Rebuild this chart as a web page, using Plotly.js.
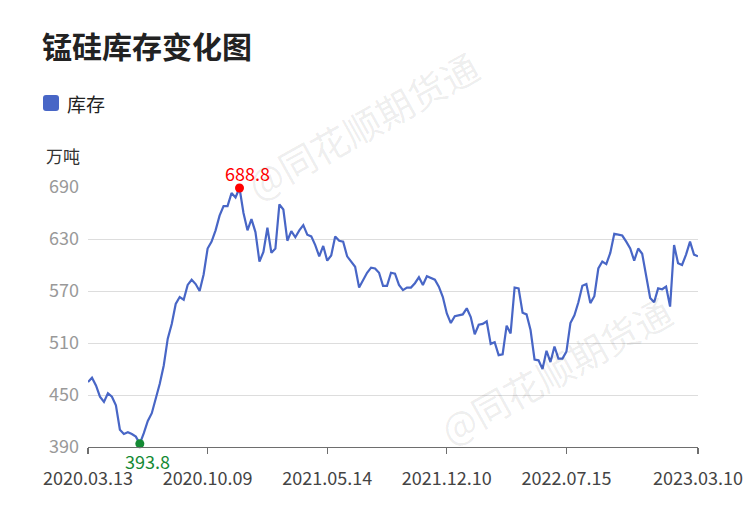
<!DOCTYPE html>
<html>
<head>
<meta charset="utf-8">
<script src="https://cdn.plot.ly/plotly-3.0.1.min.js"></script>
<style>html,body{margin:0;padding:0;background:#fff;}#chart{width:750px;height:510px;}</style>
</head>
<body>
<div id="chart"></div>
<script>
// Weekly inventory (万吨), 2020.03.13 – 2023.03.10
const seriesName = '库存';
const stock = [
  465, 470, 461, 448, 442, 452, 448, 438, 410, 405,
  407, 405, 402, 393.8, 406, 420, 429, 446, 463, 484,
  515, 532, 555, 563, 560, 577, 583, 578, 570, 589,
  619, 627, 640, 657, 668, 668, 683, 678, 688.8, 660,
  640, 653, 638, 604, 615, 643, 614, 619, 670, 664,
  628, 639, 632, 640, 646, 635, 633, 623, 610, 622,
  605, 611, 633, 628, 627, 610, 604, 598, 574, 583,
  591, 597, 596, 591, 576, 576, 591, 590, 577, 571,
  574, 574, 579, 586, 577, 587, 585, 583, 575, 563,
  544, 533, 541, 542, 543, 550, 540, 520, 531, 532,
  535, 509, 511, 496, 497, 530, 521, 574, 573, 545,
  543, 525, 491, 490, 480, 501, 488, 506, 492, 492,
  500, 533, 542, 557, 576, 578, 556, 564, 596, 604,
  601, 614, 636, 635, 634, 627, 619, 605, 619, 613,
  587, 562, 557, 573, 572, 575, 552, 623, 602, 600,
  612, 627, 612, 610
];
const tickIndex = [0, 30, 60, 90, 120, 153];
const tickLabels = ['2020.03.13', '2020.10.09', '2021.05.14', '2021.12.10', '2022.07.15', '2023.03.10'];
const yTicks = [390, 450, 510, 570, 630, 690];

const FONT = '"Noto Sans CJK SC", "Noto Sans", sans-serif';
const xs = stock.map((_, i) => i);
const maxV = Math.max(...stock), minV = Math.min(...stock);
const maxI = stock.indexOf(maxV), minI = stock.indexOf(minV);

const traces = [
  {x: xs, y: stock, type: 'scatter', mode: 'lines', name: seriesName,
   line: {color: '#4866c6', width: 2.2}, hoverinfo: 'x+y', cliponaxis: false},
  {x: [maxI], y: [maxV], type: 'scatter', mode: 'markers', cliponaxis: false,
   marker: {color: '#ff0000', size: 9}, hoverinfo: 'skip'},
  {x: [minI], y: [minV], type: 'scatter', mode: 'markers', cliponaxis: false,
   marker: {color: '#148a34', size: 9}, hoverinfo: 'skip'}
];

const L = 88, R = 698, T = 187, B = 447;
const px = v => (v - L) / (R - L);
const py = v => (B - v) / (B - T);

const layout = {
  width: 750, height: 510,
  margin: {l: L, r: 750 - R, t: T, b: 510 - B, pad: 0},
  paper_bgcolor: '#fff', plot_bgcolor: '#fff',
  showlegend: false,
  font: {family: FONT, color: '#333'},
  title: {text: '<b>锰硅库存变化图</b>', font: {family: FONT, size: 30, color: '#222'},
          xref: 'container', yref: 'container', x: 42 / 750, xanchor: 'left',
          y: 1 - 47 / 510, yanchor: 'middle'},
  xaxis: {range: [0, stock.length - 1], tickmode: 'array', tickvals: tickIndex, ticktext: tickLabels,
          showgrid: false, zeroline: false, showline: true, linecolor: '#6e6e6e', linewidth: 1.2,
          ticks: 'outside', ticklen: 6, tickcolor: '#6e6e6e', tickwidth: 1.2,
          tickfont: {family: FONT, size: 18, color: '#444'}, ticklabelstandoff: 9, fixedrange: true},
  yaxis: {range: [390, 690], tickmode: 'array', tickvals: yTicks,
          showgrid: true, gridcolor: '#dddddd', gridwidth: 1, zeroline: false, showline: false,
          ticks: '', tickfont: {family: FONT, size: 18, color: '#999'}, ticklabelstandoff: 8, fixedrange: true},
  shapes: [
    {type: 'path', xref: 'paper', yref: 'paper', xsizemode: 'pixel', ysizemode: 'pixel',
     xanchor: px(43), yanchor: py(103),
     path: 'M 3 8 L 13 8 Q 16 8 16 5 L 16 -5 Q 16 -8 13 -8 L 3 -8 Q 0 -8 0 -5 L 0 5 Q 0 8 3 8 Z',
     fillcolor: '#4866c6', line: {width: 0}}
  ],
  annotations: [
    {text: seriesName, xref: 'paper', yref: 'paper', x: px(65), y: py(103), xanchor: 'left', yanchor: 'middle',
     showarrow: false, font: {family: FONT, size: 19, color: '#222'}},
    {text: '万吨', xref: 'paper', yref: 'paper', x: px(44), y: py(155), xanchor: 'left', yanchor: 'middle',
     showarrow: false, font: {family: FONT, size: 17, color: '#333'}},
    {text: String(maxV), x: maxI, y: maxV, xref: 'x', yref: 'y', showarrow: false,
     xshift: 8, yshift: 15, font: {family: FONT, size: 18, color: '#ff0000'}},
    {text: String(minV), x: minI, y: minV, xref: 'x', yref: 'y', showarrow: false,
     xshift: 8, yshift: -17, font: {family: FONT, size: 18, color: '#148a34'}},
    {text: '@同花顺期货通', xref: 'paper', yref: 'paper', x: px(362), y: py(125), showarrow: false,
     xanchor: 'center', yanchor: 'middle',
     textangle: -29, font: {family: FONT, size: 37, color: 'rgba(0,0,0,0.08)'}},
    {text: '@同花顺期货通', xref: 'paper', yref: 'paper', x: px(555), y: py(370), showarrow: false,
     xanchor: 'center', yanchor: 'middle',
     textangle: -29, font: {family: FONT, size: 37, color: 'rgba(0,0,0,0.08)'}}
  ]
};

Plotly.newPlot('chart', traces, layout, {displayModeBar: false, staticPlot: true});
</script>
</body>
</html>
